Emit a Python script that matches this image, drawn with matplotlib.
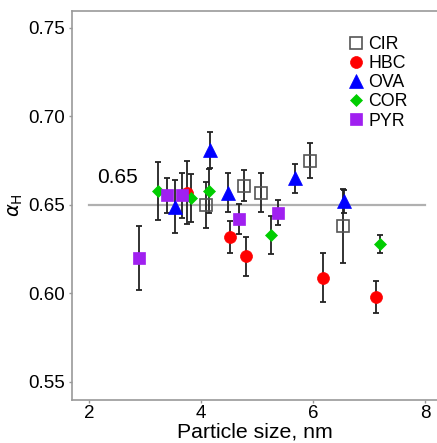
import matplotlib
matplotlib.use("Agg")
import matplotlib.pyplot as plt

plt.rcParams["font.family"] = ["Liberation Sans", "DejaVu Sans"]

# particle size (nm), alpha_H value and error for each protein
cir_x = [4.09, 4.76, 5.07, 5.95, 6.53]
cir_y = [0.650, 0.661, 0.657, 0.675, 0.638]
cir_err = [0.013, 0.009, 0.011, 0.010, 0.021]

hbc_x = [3.76, 4.51, 4.80, 6.17, 7.13]
hbc_y = [0.657, 0.632, 0.621, 0.609, 0.598]
hbc_err = [0.018, 0.009, 0.011, 0.014, 0.009]

ova_x = [3.54, 4.16, 4.48, 5.68, 6.55]
ova_y = [0.649, 0.681, 0.657, 0.665, 0.652]
ova_err = [0.015, 0.010, 0.011, 0.008, 0.0065]

cor_x = [3.24, 3.82, 4.15, 5.25, 7.20]
cor_y = [0.658, 0.654, 0.658, 0.633, 0.628]
cor_err = [0.0165, 0.0135, 0.0125, 0.0105, 0.005]

pyr_x = [2.90, 3.40, 3.67, 4.68, 5.38]
pyr_y = [0.620, 0.6555, 0.6555, 0.642, 0.6457]
pyr_err = [0.018, 0.010, 0.0128, 0.0085, 0.007]

ref_value = 0.65
x_ticks = [2, 4, 6, 8]
y_ticks = [0.55, 0.60, 0.65, 0.70, 0.75]

fig = plt.figure(figsize=(4.37, 4.43), dpi=100)
ax = fig.add_axes([72 / 437, 1 - 400 / 443, 1 - 72 / 437, (400 - 11) / 443])

ax.plot([2, 8], [ref_value, ref_value], color="#b0b0b0", lw=1.6, zorder=1)
ax.text(2.14, 0.6600, "0.65", fontsize=15, ha="left", va="bottom")

series = [
    ("CIR", cir_x, cir_y, cir_err, "s", 9.0, "none", "#555555"),
    ("HBC", hbc_x, hbc_y, hbc_err, "o", 8.6, "#ff0000", "#ff0000"),
    ("OVA", ova_x, ova_y, ova_err, "^", 10.0, "#0000ff", "#0000ff"),
    ("COR", cor_x, cor_y, cor_err, "D", 5.8, "#00cd00", "#00cd00"),
    ("PYR", pyr_x, pyr_y, pyr_err, "s", 8.9, "#a020f0", "#a020f0"),
]

handles = []
for name, xs, ys, errs, mk, ms, fc, ec in series:
    ax.errorbar(xs, ys, yerr=errs, fmt="none", ecolor="#222222",
                elinewidth=1.3, capsize=2.2, capthick=1.3, zorder=2)
    h, = ax.plot(xs, ys, linestyle="none", marker=mk, markersize=ms,
                 markerfacecolor=fc, markeredgecolor=ec,
                 markeredgewidth=1.2 if fc == "none" else 0.5,
                 label=name, zorder=3)
    handles.append(h)

ax.legend(handles=handles, loc="upper left", frameon=False, fontsize=12.8,
          bbox_to_anchor=(349 / 437, 1 - 36 / 443), bbox_transform=fig.transFigure,
          borderpad=0, borderaxespad=0, handlelength=0.8, handletextpad=0.3,
          labelspacing=0.12, numpoints=1)

ax.set_xlim(1.70, 8.21)
ax.set_ylim(0.5398, 0.7596)
ax.set_xticks(x_ticks)
ax.set_yticks(y_ticks)
ax.set_yticklabels([f"{v:.2f}" for v in y_ticks])

for side in ["left", "bottom", "top"]:
    ax.spines[side].set_color("#999999")
    ax.spines[side].set_linewidth(1.2)
ax.spines["right"].set_visible(False)

ax.tick_params(axis="both", direction="out", length=2.5, width=1,
               color="#999999", labelsize=13.5)
ax.tick_params(axis="x", pad=1)
ax.tick_params(axis="y", pad=2.5)

ax.set_xlabel("Particle size, nm", fontsize=15.3, labelpad=0.5)
fig.text(16 / 437, 1 - 205 / 443, r"$\alpha_{\mathrm{H}}$", rotation=90,
         fontsize=14, ha="center", va="center")

fig.savefig("out.png", dpi=100)
